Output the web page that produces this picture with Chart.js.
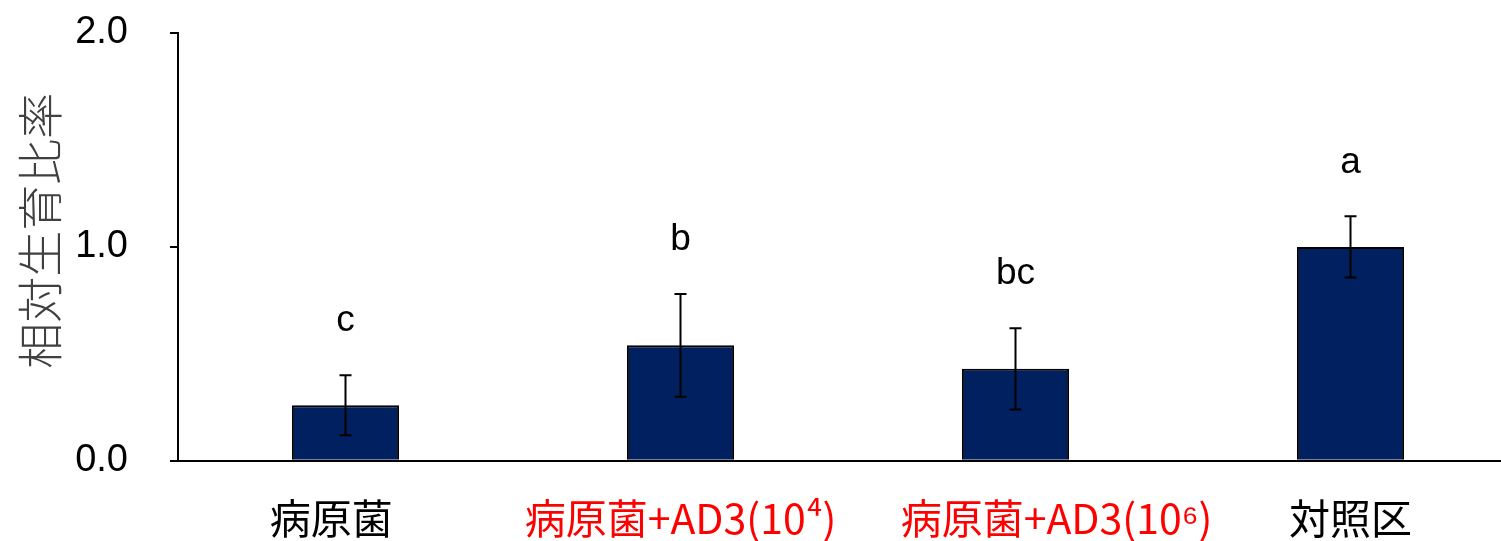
<!DOCTYPE html>
<html lang="ja">
<head>
<meta charset="UTF-8">
<title>相対生育比率</title>
<script src="https://cdn.jsdelivr.net/npm/chart.js"></script>
<style>
  html, body { margin: 0; padding: 0; background: #fff; overflow: hidden; }
  #wrap { width: 1518px; height: 541px; }
</style>
</head>
<body>
<div id="wrap"><canvas id="growthChart" width="1518" height="541"></canvas></div>
<script>
// data
const categories = ["病原菌\u2002\u2009", "病原菌+AD3(10⁴)", "\u3000\u3000病原菌+AD3(10⁶)", "対照区"];
const labelColors = ["#000000", "#ff0000", "#ff0000", "#000000"];
const means = [0.26, 0.54, 0.43, 1.00];
const errors = [0.14, 0.24, 0.19, 0.143];
const letters = ["c", "b", "bc", "a"];
const yTicks = [0, 1, 2];

// error bars + significance letters, positioned via the scales
const errorBarPlugin = {
    id: "errorBars",
    afterDatasetsDraw(chart) {
        const ctx = chart.ctx;
        const y = chart.scales.y;
        const meta = chart.getDatasetMeta(0);
        ctx.save();
        ctx.strokeStyle = "#000";
        ctx.lineWidth = 2;
        meta.data.forEach((bar, i) => {
            const top = y.getPixelForValue(means[i] + errors[i]);
            const bot = y.getPixelForValue(means[i] - errors[i]);
            ctx.beginPath();
            ctx.moveTo(bar.x, top); ctx.lineTo(bar.x, bot);
            ctx.moveTo(bar.x - 6, top); ctx.lineTo(bar.x + 6, top);
            ctx.moveTo(bar.x - 6, bot); ctx.lineTo(bar.x + 6, bot);
            ctx.stroke();

            ctx.fillStyle = "#000";
            ctx.font = "37px 'Liberation Sans', Arial, sans-serif";
            ctx.textAlign = "center";
            ctx.textBaseline = "middle";
            ctx.fillText(letters[i], bar.x, top - 54);
        });
        ctx.restore();
    }
};

new Chart(document.getElementById("growthChart"), {
    type: "bar",
    data: {
        labels: categories,
        datasets: [{
            data: means,
            backgroundColor: "#002060",
            borderColor: "#000000",
            borderWidth: 2,
            barPercentage: 0.32,
            categoryPercentage: 1.0
        }]
    },
    options: {
        responsive: false,
        animation: false,
        layout: { padding: { top: 33, right: 0, bottom: -35, left: 0 } },
        plugins: {
            legend: { display: false },
            tooltip: { enabled: false }
        },
        scales: {
            x: {
                grid: { display: true, drawOnChartArea: false, drawTicks: false },
                border: { display: true, color: "#000", width: 2 },
                ticks: {
                    padding: 33,
                    maxRotation: 0,
                    autoSkip: false,
                    color: (c) => labelColors[c.index],
                    font: { family: "'Noto Sans CJK JP', sans-serif", size: 41 }
                }
            },
            y: {
                min: 0,
                max: 2,
                afterBuildTicks: (scale) => { scale.ticks = yTicks.map(v => ({ value: v })); },
                afterFit: (scale) => {
                    scale.width = 178;
                    scale.paddingTop = 0;
                    scale.paddingBottom = 0;
                },
                grid: { display: true, drawOnChartArea: false, drawTicks: true, tickLength: 8, color: "#000", lineWidth: 2 },
                border: { display: true, color: "#000", width: 2 },
                ticks: {
                    padding: 42,
                    color: "#000",
                    font: { family: "'Liberation Sans', Arial, sans-serif", size: 38 },
                    callback: (v) => Number(v).toFixed(1)
                },
                title: {
                    display: true,
                    text: "\u2002\u2009相対生育比率",
                    color: "#404040",
                    padding: { top: 12, bottom: 0 },
                    font: { family: "'Noto Sans CJK JP', sans-serif", size: 46, weight: "300" }
                }
            }
        }
    },
    plugins: [errorBarPlugin]
});
</script>
</body>
</html>
